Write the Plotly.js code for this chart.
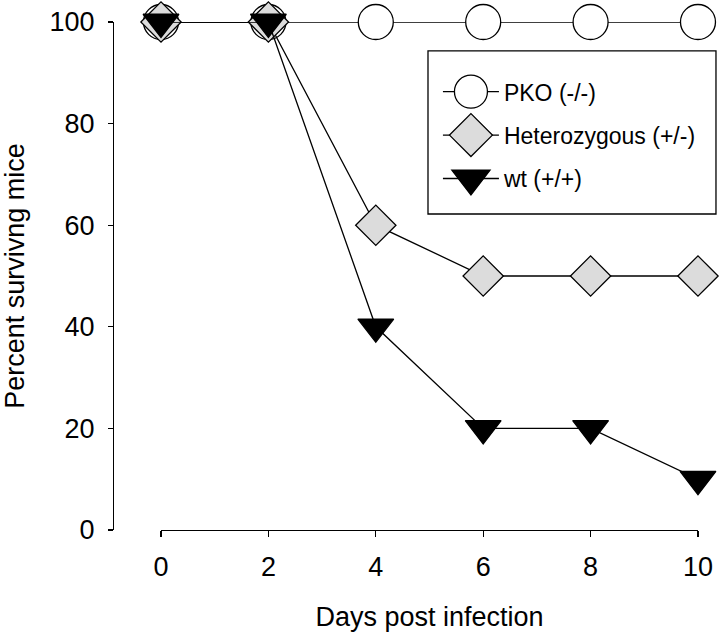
<!DOCTYPE html>
<html>
<head>
<meta charset="utf-8">
<script src="https://cdn.plot.ly/plotly-3.0.1.min.js"></script>
<style>html,body{margin:0;padding:0;background:#fff;}</style>
</head>
<body>
<div id="chart" style="width:720px;height:632px;"></div>
<script>
const days = [0, 2, 4, 6, 8, 10];
const pko = [100, 100, 100, 100, 100, 100];
const het = [100, 100, 60, 50, 50, 50];
const wt = [100, 100, 40, 20, 20, 10];
const seriesNames = ['PKO (-/-)', 'Heterozygous (+/-)', 'wt (+/+)'];
const xTicks = [0, 2, 4, 6, 8, 10];
const yTicks = [0, 20, 40, 60, 80, 100];

const font = 'Liberation Sans, Arial, sans-serif';
const lineStyle = {color: '#000', width: 1.3};

const traces = [
  {x: days, y: pko, name: seriesNames[0], mode: 'lines+markers', legendgroup: 'a', cliponaxis: false,
   line: lineStyle, marker: {symbol: 'circle', size: 35, color: '#fff', line: {color: '#000', width: 1.3}}},
  {x: days, y: het, name: seriesNames[1], mode: 'lines+markers', legendgroup: 'b', cliponaxis: false,
   line: lineStyle, marker: {symbol: 'diamond', size: 31, color: '#dcdcdc', line: {color: '#000', width: 1.3}}},
  {x: days, y: wt, name: seriesNames[2], mode: 'lines+markers', legendgroup: 'c', cliponaxis: false,
   line: lineStyle, marker: {symbol: 'triangle-down', size: 31, color: '#000', line: {color: '#000', width: 1.3}}}
];

const layout = {
  width: 720, height: 632,
  margin: {l: 100, r: 10, t: 22, b: 102},
  paper_bgcolor: '#fff', plot_bgcolor: 'rgba(0,0,0,0)',
  font: {family: font, size: 27, color: '#000'},
  showlegend: true,
  legend: {
    x: 0.554, y: 0.905, xanchor: 'left', yanchor: 'top',
    borderwidth: 0, bgcolor: 'rgba(0,0,0,0)',
    font: {family: font, size: 23, color: '#000'},
    tracegroupgap: 10.5, itemwidth: 56, itemsizing: 'trace'
  },
  shapes: [{
    type: 'rect', xref: 'paper', yref: 'paper',
    x0: 0.5377, x1: 1.0098, y0: 0.622, y1: 0.943,
    line: {color: '#000', width: 1.3}, fillcolor: '#fff', layer: 'below'
  }],
  xaxis: {
    domain: [0.1, 0.9803], range: [0, 10], tickvals: xTicks,
    showline: true, linecolor: '#000', linewidth: 1.3,
    ticks: 'outside', ticklen: 6, tickwidth: 1.3, tickcolor: '#000',
    showgrid: false, zeroline: false, ticklabelstandoff: 6,
    title: {text: 'Days post infection', font: {family: font, size: 27}, standoff: 26}
  },
  yaxis: {
    range: [0, 100], tickvals: yTicks, anchor: 'free', position: 0.0213,
    showline: true, linecolor: '#000', linewidth: 1.3,
    ticks: 'outside', ticklen: 5, tickwidth: 1.3, tickcolor: '#000',
    showgrid: false, zeroline: false, ticklabelstandoff: 8,
    title: {text: 'Percent survivng mice', font: {family: font, size: 27}, standoff: 18}
  }
};

Plotly.newPlot('chart', traces, layout, {displayModeBar: false, staticPlot: true}).then(function () {
  document.querySelectorAll('.legend path.scatterpts').forEach(function (p) {
    p.style.vectorEffect = 'non-scaling-stroke';
    const t = p.getAttribute('transform') || '';
    p.setAttribute('transform', t + ' scale(' + (33 / 16) + ')');
  });
});
</script>
</body>
</html>
